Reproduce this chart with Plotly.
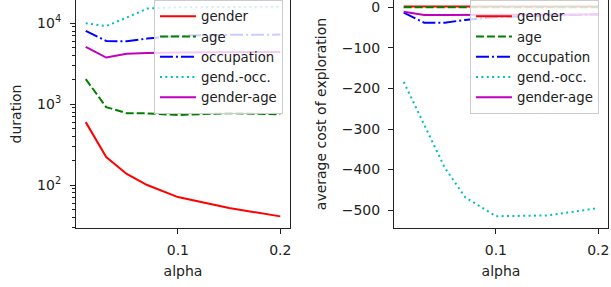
import plotly.graph_objects as go
from plotly.subplots import make_subplots

alpha = [0.01, 0.03, 0.05, 0.07, 0.1, 0.15, 0.2]
series_names = ["gender", "age", "occupation", "gend.-occ.", "gender-age"]

# duration (log scale)
dur_gender = [600, 222, 137, 100, 71, 52, 41]
dur_age = [2040, 920, 775, 770, 735, 775, 750]
dur_occupation = [8040, 6050, 5990, 6470, 7000, 7200, 7250]
dur_gend_occ = [10000, 9260, 11760, 15200, 15800, 16000, 16000]
dur_gender_age = [5100, 3770, 4200, 4300, 4350, 4400, 4430]

# average cost of exploration
cost_gender = [2, 2, 2, 2, 2, 2, 2]
cost_age = [0, 0, 0, 0, 0, 0, 0]
cost_occupation = [-13, -38, -38, -31, -24, -20, -17]
cost_gend_occ = [-184, -290, -395, -468, -515, -513, -495]
cost_gender_age = [-11, -19, -19, -19, -19, -18, -18]

colors = ["#ff0000", "#008000", "#0000ff", "#00bfbf", "#bf00bf"]
dashes = ["solid", "8px,3px", "13px,3px,2px,3px", "2px,3.4px", "solid"]

left_tickvals = [100, 1000, 10000]
left_ticktext = ["10<sup>2</sup>", "10<sup>3</sup>", "10<sup>4</sup>"]
right_tickvals = [0, -100, -200, -300, -400, -500]
x_tickvals = [0.1, 0.2]

minor_vals = [m * 10 ** e for e in range(1, 5) for m in range(2, 10)]

fig = make_subplots(rows=1, cols=2, horizontal_spacing=0.1954)
fig.update_layout(xaxis=dict(domain=[0, 0.4023]), xaxis2=dict(domain=[0.5977, 1.0]))

left_data = [dur_gender, dur_age, dur_occupation, dur_gend_occ, dur_gender_age]
right_data = [cost_gender, cost_age, cost_occupation, cost_gend_occ, cost_gender_age]

for name, ys, c, d in zip(series_names, left_data, colors, dashes):
    fig.add_trace(go.Scatter(x=alpha, y=ys, mode="lines", name=name,
                             line=dict(color=c, width=2, dash=d), legend="legend"),
                  row=1, col=1)
for name, ys, c, d in zip(series_names, right_data, colors, dashes):
    fig.add_trace(go.Scatter(x=alpha, y=ys, mode="lines", name=name,
                             line=dict(color=c, width=2, dash=d), legend="legend2"),
                  row=1, col=2)

font = dict(family="DejaVu Sans", size=14, color="#222222")
legend_font = dict(family="DejaVu Sans", size=13.3, color="#222222")
axis_common = dict(showgrid=False, zeroline=False, showline=True, linecolor="#222222",
                   linewidth=1.1, ticks="outside", ticklen=5, tickwidth=1.1,
                   tickcolor="#222222", tickfont=font, automargin=False,
                   ticklabeloverflow="allow")

for i in (1, 2):
    fig.update_xaxes(row=1, col=i, range=[0.0005, 0.2095], tickvals=x_tickvals,
                     ticktext=["0.1", "0.2"], mirror=False, ticklabelstandoff=4,
                     title=dict(text="alpha", font=font, standoff=9), **axis_common)

fig.update_yaxes(row=1, col=1, type="log", range=[1.469, 4.288],
                 tickvals=left_tickvals, ticktext=left_ticktext, mirror=True,
                 ticklabelstandoff=6,
                 minor=dict(tickvals=minor_vals, ticks="outside", ticklen=3,
                            tickwidth=0.8, tickcolor="#222222"),
                 title=dict(text="duration", font=font, standoff=12), **axis_common)
fig.update_yaxes(row=1, col=2, range=[-544, 18], tickvals=right_tickvals,
                 mirror=True, ticklabelstandoff=5,
                 title=dict(text="average cost of exploration", font=font, standoff=11),
                 **axis_common)

legend_common = dict(bgcolor="rgba(255,255,255,0.8)", bordercolor="#cccccc",
                     borderwidth=1, font=legend_font, xanchor="right", yanchor="top",
                     itemwidth=36, tracegroupgap=0)
fig.update_layout(
    width=611, height=287,
    margin=dict(l=76, r=3, t=0, b=59),
    paper_bgcolor="white", plot_bgcolor="white",
    font=font,
    legend=dict(x=0.389, y=1.0, **legend_common),
    legend2=dict(x=0.983, y=1.0, **legend_common),
)

fig.write_html("out.html", config={"displayModeBar": False},
               post_script="document.body.style.margin='0';")
